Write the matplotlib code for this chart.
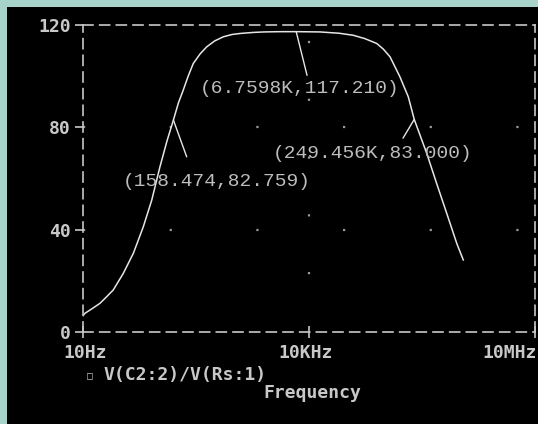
import numpy as np
import matplotlib
matplotlib.use("Agg")
import matplotlib.pyplot as plt

# Bode magnitude
freq_hz = [10, 10.6, 13.5, 16.8, 20.5, 25.2, 34.3, 46.6, 63.1, 81.7, 105, 130,
           158.474, 185, 214, 250, 291, 360, 439, 560, 728, 950, 1213, 1800,
           2512, 4000, 6759.8, 14000, 25000, 38700, 55000, 79300, 97000,
           119000, 161000, 208000, 249456, 366000, 495000, 673000, 914000,
           1117000]
gain = [6.5, 7.4, 9.4, 11.3, 13.8, 16.5, 23.0, 30.8, 41.1, 51.5, 64.5, 74.5,
        82.759, 89.5, 94.4, 100.0, 104.8, 108.6, 111.3, 113.6, 115.2, 116.1,
        116.5, 116.9, 117.1, 117.2, 117.21, 117.1, 116.6, 115.8, 114.5, 112.6,
        110.4, 107.4, 99.6, 91.8, 83.0, 69.7, 58.0, 46.4, 34.7, 28.2]

y_ticks = [0, 40, 80, 120]
x_ticks = [10, 1e4, 1e7]
x_labels = ["10Hz", "10KHz", "10MHz"]

# cursor readouts: (point, leader end, label position, text)
cursors = [
    ((158.474, 82.759), (238, 68.4), (34, 58.7), "(158.474,82.759)"),
    ((6759.8, 117.21), (9420, 100.2), (357, 95.2), "(6.7598K,117.210)"),
    ((249456, 83.0), (177000, 75.7), (3327, 69.8), "(249.456K,83.000)"),
]

TEAL = "#a8d3ca"
FG = "#c8c8c8"

fig = plt.figure(figsize=(5.38, 4.24), dpi=100, facecolor=TEAL)
bg = fig.add_axes([7 / 538, 0, 531 / 538, 417 / 424])
bg.set_facecolor("black")
bg.set_xticks([])
bg.set_yticks([])
for s in bg.spines.values():
    s.set_visible(False)

ax = fig.add_axes([83 / 538, (424 - 332.3) / 424, 452 / 538, 307.8 / 424])
ax.set_facecolor("black")
ax.set_xscale("log")
ax.set_xlim(10, 1e7)
ax.set_ylim(0, 120)

for s in ax.spines.values():
    s.set_color(FG)
    s.set_linestyle((0, (6, 4)))
    s.set_linewidth(1.2)

# sparse dotted grid
for yv in [40, 80]:
    ax.axhline(yv, color="#9a9a9a", lw=1.6, ls=(0, (1, 38)))
ax.axvline(1e4, color="#9a9a9a", lw=1.6, ls=(0, (1, 25)))

ax.plot(freq_hz, gain, color="#e6e6e6", lw=1.1)

mono = dict(family="Liberation Mono", fontsize=14, color="#bdbdbd")
for pt, lead, txt_pos, txt in cursors:
    ax.annotate("", xy=pt, xytext=lead,
                arrowprops=dict(arrowstyle="-", color="#e6e6e6", lw=1.0,
                                shrinkA=0, shrinkB=0))
    ax.text(txt_pos[0], txt_pos[1], txt, ha="left", va="center", **mono)

bold = dict(family="DejaVu Sans Mono", fontweight="bold", fontsize=13, color=FG)
ax.set_yticks(y_ticks)
ax.set_yticklabels([str(v) for v in y_ticks], **bold)
ax.tick_params(axis="y", direction="out", length=6, width=1.2, color=FG, pad=3)
ax.set_xticks(x_ticks)
ax.set_xticklabels([])
ax.minorticks_off()
ax.tick_params(axis="x", direction="inout", length=8, width=1.2, color=FG)

# x tick labels placed like the probe window does
fig.text(85 / 538, 1 - 353 / 424, x_labels[0], ha="center", va="center", **bold)
fig.text(306 / 538, 1 - 353 / 424, x_labels[1], ha="center", va="center", **bold)
fig.text(537 / 538, 1 - 353 / 424, x_labels[2], ha="right", va="center", **bold)

fig.text(90 / 538, 1 - 376 / 424, "\u25a1", ha="center", va="center",
         family=["DejaVu Sans Mono", "DejaVu Sans"], fontsize=7, color=FG)
fig.text(104 / 538, 1 - 375 / 424, "V(C2:2)/V(Rs:1)", ha="left", va="center", **bold)
fig.text(263 / 538, 1 - 393 / 424, "Frequency", ha="left", va="center", **bold)

fig.savefig("out.png", dpi=100, facecolor=TEAL)
